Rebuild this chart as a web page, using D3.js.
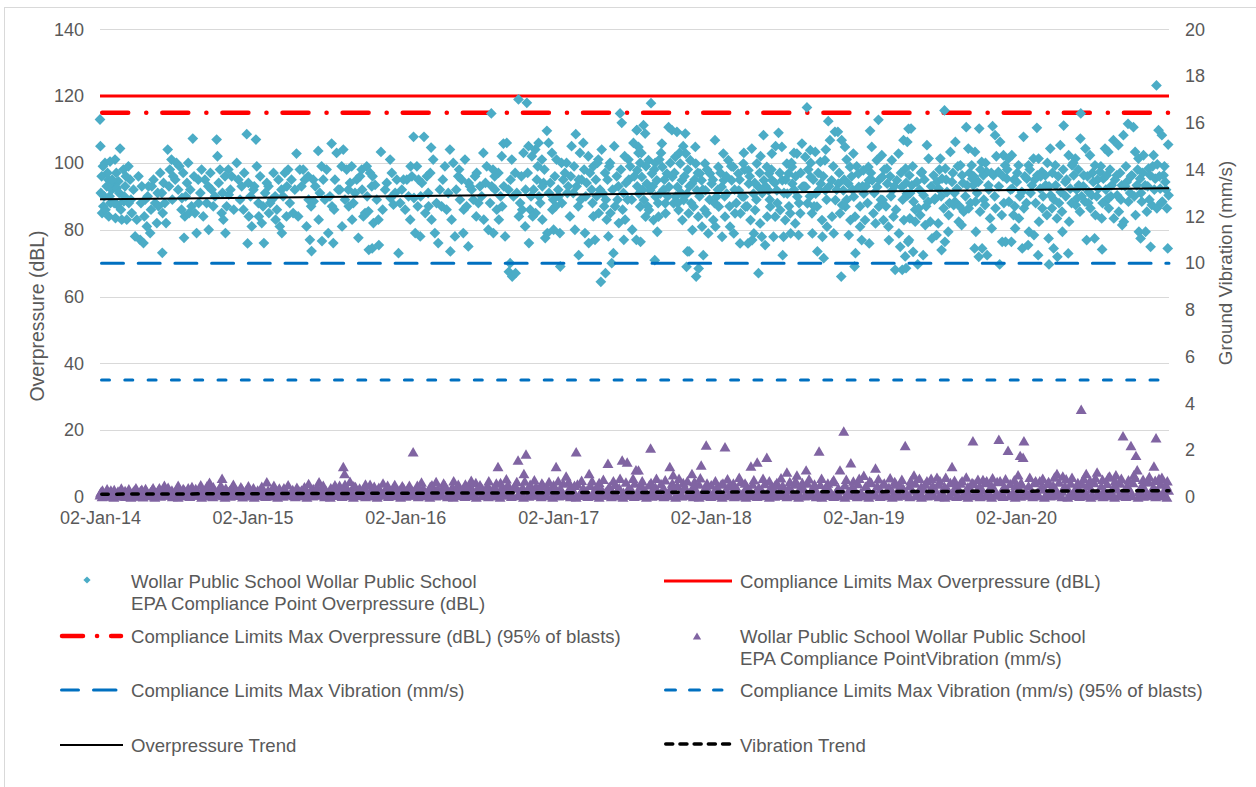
<!DOCTYPE html>
<html>
<head>
<meta charset="utf-8">
<script src="https://cdn.jsdelivr.net/npm/d3@7"></script>
<style>
  html, body { margin: 0; padding: 0; background: #ffffff; }
  svg { display: block; font-family: "Liberation Sans", Arial, sans-serif; }
</style>
</head>
<body>
<svg id="chart" width="1256" height="787"></svg>
<script>
// ---- Axis settings ----
const axisStart = "2014-01-02";
const axisEnd = "2021-01-02";
const yearTicks = ["2014-01-02", "2015-01-02", "2016-01-02", "2017-01-02", "2018-01-02", "2019-01-02", "2020-01-02"];
const overpressureTicks = [0, 20, 40, 60, 80, 100, 120, 140];
const vibrationTicks = [0, 2, 4, 6, 8, 10, 12, 14, 16, 18, 20];

// ---- Compliance limits ----
const overpressureLimit = 120;     // dBL
const overpressureLimit95 = 115;   // dBL, 95% of blasts
const vibrationLimit = 10;         // mm/s
const vibrationLimit95 = 5;        // mm/s, 95% of blasts

// ---- Linear trends (value at axis start, value at axis end) ----
const overpressureTrend = [89.1, 92.4];
const vibrationTrend = [0.12, 0.27];

// ---- Blast results at Wollar Public School: [days after 2 Jan 2014, overpressure dBL] ----
const overpressureBlasts = [
[0,113],[1,105],[12,100],[24,100.4],[36,101],[48,104.3],[4,96],[20,95],[32,94],[44,94.5],[56,98],[68,99],[16,93],[28,92],[40,92.5],[60,93],[72,95],[8,87],[25,88],[41,87.5],[57,88.5],[69,88],[5,85],[21,84],[37,83.5],[52,83],[64,83],[76,85],[10,90],
[84,78],[96,77],[104,76],[112,81],[120,79],[92,96],[100,93],[108,89],[116,93],[124,93],[132,88],[140,87],[148,91],[136,82],[150,85],[149,73.1],
[155,88],[162,104],[171,101],[183,100],[167,98],[175,96],[187,92],[199,97],[211,100],[222,107.3],[195,86],[203,84],[213,85],[219,87],[227,85],[201,77.6],[231,79],[196,89.5],[205,90],
[235,95],[243,98],[251,95],[259,93],[267,92],[279,107],[281,102],[287,98],[299,96],[307,98],[236,88],[247,84],[260,80],[271,87],[291,85],[300,79],[295,83],[308,90.5],
[315,96],[327,100],[331,95],[339,93],[351,108.6],[373,107],[375,99],[355,94],[367,92],[379,88],[343,86],[356,84],[363,81],[353,75.9],[380,84],[387,82],[392,76],
[395,91],[403,93],[411,89],[419,90],[427,95],[434,92],[442,97],[450,98],[458,95],[404,85],[420,83],[430,81],[435,79],[446,84],[462,85],
[470,102.8],[478,98],[486,98],[498,96],[510,95],[522,103.6],[530,99],[542,98],[482,93],[499,89],[511,88.5],[526,91],[538,89],[474,84],[494,81],[506,73.6],[502,77],[523,83],[531,76.6],[546,79],
[554,105.8],[566,103],[582,104],[578,99],[590,98],[602,99],[614,95],[626,98],[638,99],[562,95],[574,92],[594,92],[610,91],[627,92],[558,76],[579,81],[603,83],[618,77.6],[630,84],[643,74],[555,87],[595,87],[634,85],
[646,97],[650,93],[658,93.4],[642,85.5],[654,82],[666,83],[651,74.4],[667,75.4],[672,103.3],[694,101],[682,92],[695,89.5],[702,87.5],[710,95],[714,73],[706,91],
[722,92],[734,95],[746,96],[750,107.8],[758,99],[762,95],[775,107.8],[782,96],[792,104.6],[797,101],[730,86],[742,83],[754,79],[766,78],[778,85],[786,87],[793,83],[801,79],[809,76],[751,89.5],[767,90],
[813,92],[825,99],[837,104],[845,100],[857,96],[865,95],[873,101],[817,87],[829,86],[841,83],[849,78],[838,73.5],[861,89],[869,79],[881,75],[882,94],[877,87],
[889,92],[897,96],[909,93],[917,103],[925,99],[937,93],[945,92],[953,97],[905,88],[918,83],[929,80],[941,79],[954,83],[936,114.8],[961,102],[949,86],
[965,105.8],[973,106],[985,101],[993,97],[1001,119],[1021,118],[977,92],[989,90],[1005,88],[1013,103],[1025,105],[1033,102],[981,70],[986,66],[978,67.4],[994,67],[969,78],[1002,84],[1017,81],[1029,86],[1018,92],[1026,76],
[1041,104],[1049,106],[1057,101],[1069,109.6],[1073,106],[1081,103],[1092,101],[1104,100],[1037,92],[1050,90],[1061,94],[1074,91],[1084,89],[1096,92],[1108,95],[1042,85],[1058,83],[1070,79],[1085,80],[1100,79],[1101,69],[1065,77.5],[1082,86],
[1116,100],[1128,105],[1138,108.6],[1148,103],[1156,106],[1168,102],[1180,99],[1192,101],[1120,93],[1132,91],[1144,87],[1152,95],[1164,94],[1176,92],[1188,90],[1124,84],[1145,72.4],[1160,79],[1169,76],[1184,77],[1193,85],[1136,80],
[1200,104],[1208,97],[1220,100],[1230,105],[1244,114.8],[1248,112],[1264,101],[1276,106],[1284,109.8],[1288,103],[1198,64.4],[1209,67],[1224,70],[1228,73],[1196,92],[1210,89],[1221,85],[1232,87],[1240,93],[1252,91],[1265,95],[1272,89],[1285,93],[1256,83],[1273,80],[1283,77],[1216,78],[1241,82],[1253,77],
[1284,109.8],[1300,111.3],[1304,108.8],[1288,104.8],[1312,100.8],[1328,100],[1344,105.8],[1360,110.7],[1285,97.8],[1296,95.8],[1308,93.8],[1320,96.8],[1332,94.8],[1345,98.8],[1356,96.8],[1289,90.8],[1301,88.9],[1316,91.8],[1329,89.9],[1340,90.8],[1352,87.9],[1292,86.9],[1313,85.9],[1324,82.9],[1336,83.9],[1353,84.9],[1293,76.4],[1305,83.9],[1333,79.4],[1327,70.9],[1318,117.9],[1361,92.8],
[1368,109.8],[1380,109.3],[1400,108.8],[1376,101.8],[1388,99.8],[1401,102.8],[1412,100.8],[1424,104.8],[1435,96.8],[1369,95.8],[1381,92.8],[1392,94.8],[1404,90.8],[1416,93.8],[1428,91.8],[1439,94.8],[1372,87.9],[1384,85.9],[1396,88.9],[1408,84.9],[1420,86.9],[1431,83.9],[1440,80.9],[1393,82.9],[1417,79.9],[1405,73.5],[1409,73.5],[1403,68.9],[1426,66],[1432,68.4],[1377,89.9],[1425,99.8],
[1443,72.4],[1447,99.8],[1459,96.8],[1471,106.8],[1479,98.8],[1491,102.8],[1503,100.8],[1515,98.8],[1448,91.8],[1463,93.8],[1475,89.9],[1487,92.8],[1499,90.8],[1511,94.8],[1451,84.9],[1467,82.9],[1480,86.9],[1495,83.9],[1507,80.9],[1519,84.9],[1455,78.9],[1472,80.9],[1488,77.9],[1516,78.9],[1531,75.9],[1492,94.8],
[1527,96.8],[1539,99.8],[1551,97.8],[1559,104.3],[1571,99.8],[1587,108.3],[1595,98.8],[1528,91.8],[1540,89.9],[1552,93.8],[1563,90.8],[1575,92.8],[1588,94.8],[1599,91.8],[1532,84.9],[1544,86.9],[1556,82.9],[1567,85.9],[1579,81.9],[1596,83.9],[1550,75.9],[1564,78.9],[1575,67],[1583,77.9],[1591,75.4],[1560,76.9],[1600,96.8],
[1607,102.8],[1623,109],[1631,104.8],[1643,99.8],[1655,98.8],[1667,102.8],[1679,105.8],[1608,94.8],[1619,91.8],[1632,94.8],[1644,90.8],[1656,93.8],[1668,89.9],[1680,92.8],[1603,86.9],[1615,83.9],[1627,85.9],[1639,82.9],[1651,84.9],[1663,81.9],[1675,84.9],[1633,72.4],[1635,77.9],[1652,78.9],[1671,78.4],[1611,77.9],[1647,96.8],
[1691,116.6],[1687,101.8],[1699,103.8],[1711,103.3],[1723,100.3],[1734,100.8],[1746,106.8],[1758,109.3],[1688,92.8],[1700,95.8],[1712,90.8],[1724,93.8],[1735,91.8],[1750,94.8],[1692,87.9],[1703,84.9],[1715,86.9],[1727,82.9],[1739,80.9],[1751,83.9],[1716,73.5],[1731,71.5],[1742,112.5],[1728,77.9],[1704,78.9],[1755,78.9],[1759,88.9],
[1765,109.3],[1774,106.8],[1782,104.8],[1794,98.8],[1802,102.8],[1814,96.8],[1826,97.8],[1838,98.8],[1766,93.8],[1778,91.8],[1790,93.8],[1803,89.9],[1815,92.8],[1827,90.8],[1839,94.8],[1770,84.9],[1783,86.9],[1795,82.9],[1806,83.9],[1818,80.9],[1830,82.9],[1773,66],[1807,73],[1822,76.9],[1840,75.9],[1791,78.4],[1805,69],[1775,87.4],
[1842,109.6],[1862,112.9],[1846,104.8],[1858,100.8],[1870,102.3],[1882,98.3],[1894,100.8],[1910,102.8],[1922,106.8],[1934,110.2],[1847,94.8],[1859,92.8],[1871,95.8],[1883,93.8],[1895,91.8],[1906,94.8],[1918,92.8],[1930,90.8],[1850,84.9],[1863,86.9],[1874,82.9],[1886,80.9],[1898,83.9],[1911,78.9],[1923,82.9],[1935,76.9],[1902,68],[1919,68],[1914,74.9],[1887,76.9],[1855,81.9],[1926,72],[1872,88.9],
[1940,110.3],[1931,106.3],[1927,98.3],[1936,96.3],[1942,93.3],[1954,94.3],[1966,97.3],[1978,105.3],[1982,101.3],[1994,96.3],[2002,94.3],[1932,90.3],[1946,88.4],[1958,86.4],[1970,90.3],[1981,88.4],[1998,89.4],[2006,92.3],[1937,83.4],[1950,82.4],[1962,84.4],[1974,81.4],[1986,82.4],[2001,78.4],[1933,76.4],[1945,73.4],[1956,69.6],[1969,72.4],[1928,68.5],[1990,77.4],[2005,81.9],
[2020,115.7],[2010,101.3],[2022,98.3],[2034,103.3],[2046,106.3],[2058,99.3],[2072,110.7],[2077,104.3],[2085,99.3],[2014,95.3],[2026,91.3],[2038,94.3],[2050,92.3],[2062,96.3],[2074,93.3],[2086,95.3],[2018,86.4],[2030,84.4],[2042,87.4],[2054,82.4],[2066,85.4],[2078,86.4],[2021,76.4],[2029,79.4],[2045,88.4],[2061,81.4],[2013,73.9],
[2103,110.3],[2093,103.3],[2109,100.3],[2121,97.3],[2135,111],[2141,108.3],[2153,106.3],[2161,102.3],[2089,93.3],[2101,94.3],[2113,96.3],[2125,93.3],[2137,96.3],[2149,97.3],[2165,99.3],[2094,88.4],[2105,85.4],[2117,87.4],[2129,83.4],[2142,86.4],[2157,84.4],[2102,71.9],[2092,74.4],[2110,74.4],[2122,72.4],[2152,69.6],[2158,76.4],[2166,76.4],[2133,80.4],[2095,79.4],
[2173,101.3],[2181,102.3],[2197,99.3],[2209,107.8],[2221,99.3],[2233,101.3],[2241,110.5],[2245,101.3],[2169,95.3],[2182,92.3],[2193,94.3],[2205,91.3],[2217,95.3],[2229,93.3],[2242,96.3],[2174,88.4],[2185,84.4],[2198,83.4],[2210,86.4],[2222,79.4],[2234,78.4],[2246,82.4],[2206,74.4],[2220,75.4],[2244,72.4],[2189,80.4],[2180,76.4],
[2253,97.3],[2261,96.3],[2273,104.3],[2285,99.3],[2297,105.3],[2305,111.2],[2317,102.3],[2325,99.3],[2249,92.3],[2262,93.3],[2274,90.3],[2286,93.3],[2298,91.3],[2309,94.3],[2321,92.3],[2254,86.4],[2265,84.4],[2277,86.4],[2289,83.4],[2301,85.4],[2318,82.4],[2270,69.6],[2281,74.4],[2290,71.9],[2316,72.9],[2269,77.4],[2302,79.4],
[2333,101.3],[2345,107.3],[2346,114.8],[2357,104.3],[2368,102.3],[2380,99.3],[2392,97.3],[2404,104.3],[2329,96.3],[2341,93.3],[2353,96.3],[2365,91.3],[2376,94.3],[2388,92.3],[2400,95.3],[2334,87.4],[2344,85.4],[2356,88.4],[2369,86.4],[2381,84.4],[2396,83.4],[2360,76.9],[2379,77.4],[2397,74.1],[2337,89.4],[2372,90.3],[2405,88.4],
[2412,103.3],[2424,106.8],[2436,105.3],[2448,108.3],[2459,111.7],[2472,110.7],[2476,103.3],[2484,101.3],[2408,96.3],[2420,93.3],[2432,96.3],[2444,93.3],[2456,94.3],[2468,96.3],[2480,93.3],[2413,86.4],[2425,83.4],[2437,85.4],[2449,82.4],[2460,88.4],[2477,84.4],[2485,79.4],[2445,81.4],[2433,90.3],[2411,89.4],
[2496,102.3],[2508,98.3],[2520,102.3],[2532,109.8],[2540,108.3],[2555,105.5],[2488,95.3],[2500,93.3],[2512,96.3],[2524,95.3],[2536,92.3],[2548,94.3],[2556,90.3],[2492,88.4],[2504,85.4],[2516,87.4],[2528,86.4],[2541,88.4],[2552,86.4],[2489,77.4],[2501,79.4],[2513,74.9],[2554,74.4],[2529,99.6],[2544,96.3],[2527,123.2],
[2,91],[7,99],[13,86],[18,97],[23,90],[29,95],[34,88],[39,97],[46,91],[50,86],[58,90],[62,96],[74,89],[80,92],[88,83],[98,88],[106,84],[114,90],[122,86],[128,95],[138,91],[144,97],[152,94],[158,82],[165,93],[173,89],[180,95],[190,99],[208,94],[216,92],[225,96],[240,91],[255,88],[264,97],[275,90],[284,94],[293,91],[303,87],[312,92],[320,86],[335,89],[345,97],[360,90],
[369,93],[383,96],[390,87],[399,94],[407,88],[415,97],[423,86],[438,90],[447,93],[454,88],[466,92],[490,95],[505,87],[515,93],[534,95],[550,90],[560,86],[570,92],[586,89],[598,94],[606,88],[622,96],[639,90],[652,96],[662,89],[676,86],[686,94],[698,97],[718,88],[726,95],
[738,90],[743,99],[760,87],[770,94],[785,91],[790,97],[805,88],[820,95],[833,91],[852,92],[859,98],[870,86],[885,93],[893,89],[901,97],[913,90],[922,94],[933,88],[944,96],[958,90],[966,93],[982,95],[997,91],[1008,96],[1010,86],[1023,97],[1031,90],[1045,95],[1053,88],[1063,98],[1077,94],[1088,96],[1090,87],[1058,93],[1035,84],[1047,99],[1097,90],[962,87],[940,98],[900,84],
[1105,88],[1112,97],[1118,91],[1126,96],[1134,99],[1140,93],[1150,89],[1158,98],[1162,90],[1172,97],[1178,88],[1186,95],[1190,100],[1202,91],[1206,87],[1214,95],[1218,99],[1226,92],[1236,96],[1238,89],[1246,98],[1250,86],[1258,94],[1262,89],[1268,99],[1278,96],[1292,100],[1298,92],[1306,99],[1310,87],[1322,93],[1326,98],[1335,88],[1338,101],[1348,92],[1350,95],[1358,90],[1364,100],[1374,97],[1382,88],[1386,103],[1390,91],[1398,96],[1406,98],[1410,93],[1414,88],[1422,95],[1430,97],[1434,90],[1442,92],[1446,86],[1452,98],[1458,89],[1395,105],[1342,103],[1295,103],[1255,102],[1212,83],[1180,84],[1145,95],
[1466,95],[1470,88],[1478,92],[1484,97],[1494,90],[1498,96],[1506,87],[1510,99],[1518,92],[1522,88],[1530,95],[1536,90],[1542,98],[1548,87],[1554,96],[1566,94],[1570,89],[1578,97],[1584,91],[1592,93],[1602,89],[1606,98],[1614,94],[1620,88],[1626,97],[1636,91],[1640,95],[1648,87],[1654,100],[1660,92],[1664,96],[1672,88],[1676,97],[1684,93],[1694,98],[1698,90],[1706,95],[1708,87],[1718,97],[1720,92],[1730,96],[1738,89],[1744,93],[1754,99],[1762,92],[1768,97],[1780,95],[1786,89],[1798,96],[1800,92],[1810,99],[1818,87],[1824,93],[1540,103],[1580,102],[1616,105],[1660,103],[1700,100],[1736,104],[1786,101],
[1832,93],[1836,88],[1844,97],[1852,91],[1864,95],[1868,89],[1876,98],[1880,87],[1890,96],[1892,90],[1900,93],[1904,86],[1916,97],[1920,89],[1928,94],[1938,91],[1944,99],[1950,86],[1960,92],[1964,97],[1972,95],[1976,87],[1988,93],[1996,89],[2008,98],[2012,90],[2024,95],[2032,88],[2040,97],[2044,91],[2052,99],[2056,87],[2064,94],[2070,90],[2080,97],[2082,88],[2090,96],[2098,91],[2106,98],[2114,89],[2118,100],[2126,92],[2132,97],[2140,90],[2144,102],[2150,93],[2160,96],[2162,88],[2170,98],[2178,92],[2186,95],[2188,87],
[2194,97],[2200,90],[2212,96],[2216,88],[2224,98],[2226,91],[2236,95],[2238,88],[2250,96],[2256,90],[2266,100],[2270,93],[2278,97],[2282,89],[2292,96],[2294,88],[2304,98],[2310,90],[2312,95],[2324,88],[2328,100],[2336,92],[2340,98],[2348,90],[2352,93],[2362,96],[2364,88],[2374,97],[2384,90],[2386,95],[2394,99],[2398,88],[2406,92],[2416,98],[2418,90],[2428,95],[2440,97],[2442,89],[2452,93],[2454,99],[2464,91],[2466,96],[2474,90],[2482,98],[2490,91],[2494,97],[2506,93],[2510,89],[2518,99],[2522,92],[2534,96],[2538,88],[2546,99],[2550,92]
];

// ---- Blast results at Wollar Public School: [days after 2 Jan 2014, ground vibration mm/s] ----
const vibrationBlasts = [
[0,.1],[3,.25],[9,.05],[14,.2],[20,.12],[26,.3],[31,.08],[37,.18],[43,.26],[48,.04],[54,.15],[60,.28],[66,.1],[71,.22],[77,.06],[83,.3],[88,.14],[94,.2],[100,.33],[106,.09],[112,.24],[118,.16],[124,.3],[130,.05],[136,.2],[142,.4],[148,.12],[154,.5],[160,.25],[166,.08],[172,.3],[178,.18],[184,.36],[190,.1],[196,.22],[202,.3],[208,.06],[214,.28],[220,.45],[226,.15],[232,.24],[238,.1],[244,.33],[250,.2],[256,.48],[262,.63],[268,.12],[274,.3],[280,.22],[286,.38],[292,.8],[298,.18],[304,.1],[310,.29],[316,.42],[322,.16],[328,.24],[334,.08],[340,.34],[346,.2],[352,.12],[358,.3],[364,.26],
[370,.14],[377,.3],[384,.08],[391,.22],[399,.65],[405,.18],[412,.35],[419,.1],[426,.28],[433,.16],[440,.4],[447,.2],[454,.12],[461,.32],[468,.24],[475,.06],[482,.3],[489,.44],[496,.15],[503,.26],[510,.36],[517,.1],[524,.65],[531,.22],[538,.3],[545,.14],[552,.4],[559,.2],[566,.28],[573,.5],[580,.12],[582,1.3],[585,1.0],[590,.36],[598,.67],[604,.2],[611,.45],[618,.28],[625,.14],[632,.38],[639,.24],[646,.55],[653,.18],[660,.3],[667,.42],[674,.12],[681,.26],[688,.5],[695,.2],[702,.34],[709,.16],[716,.3],[723,.48],[730,.22],
[737,.36],[744,.14],[749,1.94],[752,.28],[759,.5],[766,.2],[773,.4],[780,.1],[787,.3],[794,.52],[801,.24],[808,.36],[815,.18],[822,.6],[829,.3],[836,.14],[843,.44],[850,.26],[857,.55],[864,.2],[871,.34],[878,.12],[885,.48],[892,.3],[899,.62],[906,.22],[913,.4],[920,.16],[927,.5],[934,.28],[941,.36],[948,.6],[952,1.3],[955,.2],[962,.44],[969,.3],[976,.55],[983,.14],[990,.38],[997,.66],[1000,1.58],[1004,.24],[1011,.42],[1014,1.0],[1019,1.84],[1022,.3],[1029,.55],[1036,.2],[1043,.46],[1050,.32],[1057,.6],[1064,.18],[1071,.4],[1078,.28],[1085,.52],[1091,1.3],[1094,.22],
[1101,.36],[1108,.6],[1115,.9],[1118,.2],[1125,.44],[1132,.3],[1139,1.94],[1142,.56],[1149,.16],[1156,.4],[1163,.28],[1170,1.0],[1173,.5],[1180,.22],[1187,.38],[1194,.62],[1201,.3],[1208,.18],[1215,1.44],[1218,.45],[1225,.26],[1232,.55],[1239,.34],[1244,.8],[1249,1.58],[1252,.2],[1261,1.5],[1265,.42],[1272,.3],[1279,.6],[1282,1.17],[1286,.24],[1288,1.16],[1293,.48],[1300,.34],[1307,.16],[1314,.52],[1317,2.1],[1321,.3],[1328,.44],[1335,.2],[1342,.58],[1349,.36],[1356,.14],[1363,1.3],[1366,.42],[1371,.95],[1374,.28],[1381,.5],[1388,.22],[1395,.62],[1402,.34],[1409,.18],[1416,1.0],[1419,.46],[1426,.3],[1433,.56],[1438,1.37],[1441,.2],[1448,.4],[1450,2.22],[1455,.3],
[1462,.52],[1469,.26],[1476,.44],[1483,.18],[1490,.6],[1495,2.15],[1498,.34],[1505,.5],[1512,.22],[1519,.4],[1526,.3],[1533,.66],[1540,.2],[1547,.46],[1554,.32],[1557,1.33],[1561,.56],[1568,.24],[1572,1.5],[1576,.42],[1583,.3],[1590,.58],[1595,1.7],[1598,.2],[1605,.44],[1612,.34],[1619,.62],[1626,.26],[1633,.5],[1640,.18],[1643,1.07],[1647,.4],[1654,.3],[1661,.56],[1667,.94],[1670,.22],[1677,.46],[1684,.34],[1689,1.16],[1692,.6],[1699,.2],[1706,.42],[1713,.3],[1720,1.97],[1723,.54],[1730,.24],[1737,.44],[1741,.6],[1745,.32],[1752,.66],[1759,.18],[1766,.4],[1770,1.16],[1774,.3],[1779,2.82],[1782,.52],[1789,.24],[1796,1.46],[1799,.44],[1806,.3],[1813,.58],[1820,.2],[1827,.93],
[1831,.46],[1838,.3],[1845,.62],[1852,.22],[1855,1.24],[1859,.48],[1866,.34],[1873,.56],[1880,.2],[1887,.42],[1894,.3],[1901,.66],[1908,.24],[1915,.5],[1922,.36],[1926,2.2],[1929,.18],[1936,.48],[1943,.3],[1947,.94],[1950,.6],[1957,.22],[1964,.44],[1971,.34],[1978,.7],[1985,.26],[1992,.5],[1999,.3],[2002,.85],[2006,.56],[2013,.2],[2020,.46],[2027,.36],[2034,.62],[2038,1.3],[2041,.24],[2048,.5],[2055,.32],[2062,.7],[2069,.2],[2076,.44],[2083,.34],[2088,2.41],[2090,.58],[2097,.26],[2104,.48],[2111,.3],[2112,.75],[2118,.62],[2125,.22],[2132,.5],[2139,.36],[2146,.66],[2150,2.47],[2153,.7],[2156,.24],[2163,.46],[2170,.3],[2172,2.0],[2177,.58],[2184,.2],[2190,.5],
[2196,.95],[2199,.34],[2201,1.78],[2205,.56],[2208,1.7],[2210,2.41],[2214,.24],[2221,.48],[2228,.3],[2235,.62],[2242,.2],[2248,.7],[2252,.44],[2259,.34],[2266,.58],[2273,.22],[2280,.5],[2287,.32],[2289,1.0],[2294,.64],[2301,.26],[2303,.9],[2308,.48],[2315,.36],[2322,.6],[2329,.2],[2336,.46],[2343,.3],[2347,3.75],[2350,.56],[2357,.24],[2359,1.0],[2364,.5],[2371,.34],[2378,.62],[2385,1.07],[2388,.22],[2395,.48],[2402,.3],[2409,.58],[2415,.9],[2418,.2],[2425,.46],[2430,.95],[2433,.34],[2440,.6],[2447,2.62],[2450,.26],[2457,.5],[2464,.3],[2466,2.2],[2471,.62],[2473,.95],[2478,1.78],[2481,1.17],[2485,.24],[2492,.5],[2499,.36],[2506,.66],[2509,.65],[2513,.2],[2520,.44],[2521,1.33],[2526,2.53],[2529,.3],[2533,.8],[2537,.56],[2544,.22],[2551,.48],[2556,.3],
[1,.18],[6,.3],[12,.1],[17,.35],[23,.2],[29,.04],[34,.32],[40,.14],[46,.22],[51,.38],[57,.08],[63,.2],[69,.35],[74,.12],[80,.26],[86,.4],[91,.04],[97,.28],[103,.16],[109,.36],[115,.06],[121,.22],[127,.4],[133,.14],[139,.28],[145,.08],[151,.34],[157,.18],[163,.42],[169,.2],[175,.06],[181,.24],[187,.5],[193,.16],[199,.36],[205,.1],[211,.4],[217,.22],[223,.08],[229,.36],[235,.18],[241,.52],[247,.06],[253,.26],[259,.36],[265,.2],[271,.44],[277,.1],[283,.26],[289,.5],[295,.06],[301,.38],[307,.22],[313,.12],[319,.55],[325,.3],[331,.14],[337,.44],[343,.06],[349,.28],[355,.48],[361,.16],
[367,.4],[373,.06],[380,.24],[387,.46],[394,.12],[402,.3],[409,.05],[416,.5],[422,.2],[429,.38],[436,.08],[443,.26],[450,.52],[457,.18],[464,.06],[471,.42],[478,.26],[485,.12],[492,.34],[499,.58],[506,.08],[513,.22],[520,.44],[527,.12],[534,.5],[541,.26],[548,.06],[555,.32],[562,.52],[569,.14],[576,.36],[586,.55],[594,.1],[601,.28],[607,.48],[614,.06],[621,.38],[628,.2],[635,.56],[642,.1],[649,.34],[656,.46],[663,.06],[670,.28],[677,.6],[684,.14],[691,.36],[698,.08],[705,.54],[712,.24],[719,.06],[726,.4],
[733,.12],[740,.5],[747,.26],[755,.08],[762,.42],[769,.64],[776,.22],[783,.06],[790,.46],[797,.2],[804,.66],[811,.1],[818,.34],[825,.5],[832,.08],[839,.28],[846,.7],[853,.14],[860,.4],[867,.06],[874,.56],[881,.24],[888,.72],[895,.12],[902,.34],[909,.52],[916,.06],[923,.3],[930,.7],[937,.16],[944,.44],[951,.08],[958,.62],[965,.2],[972,.78],[979,.3],[986,.08],[993,.5],[1007,.1],[1016,.68],[1025,.12],[1032,.36],[1039,.74],[1046,.08],[1053,.3],[1060,.5],[1067,.1],[1074,.66],[1081,.06],[1088,.42],[1096,.7],
[1098,.1],[1104,.3],[1111,.08],[1121,.66],[1128,.12],[1135,.5],[1146,.08],[1152,.72],[1159,.2],[1166,.06],[1177,.7],[1183,.1],[1190,.46],[1197,.08],[1204,.76],[1211,.26],[1221,.08],[1228,.7],[1235,.12],[1242,.4],[1256,.08],[1258,.64],[1268,.12],[1275,.8],[1290,.08],[1297,.7],[1304,.3],[1310,.06],[1318,.62],[1325,.12],[1331,.8],[1338,.06],[1345,.3],[1352,.74],[1359,.08],[1369,.6],[1378,.1],[1385,.8],[1392,.06],[1398,.44],[1405,.7],[1412,.08],[1422,.66],[1429,.14],[1436,.82],[1444,.06],[1452,.6],[1458,.12],
[1465,.08],[1472,.7],[1479,.12],[1486,.56],[1493,.06],[1501,.78],[1508,.1],[1515,.6],[1522,.06],[1529,.84],[1536,.14],[1543,.6],[1550,.06],[1564,.74],[1579,.08],[1586,.8],[1593,.12],[1601,.7],[1608,.06],[1615,.52],[1622,.1],[1629,.82],[1636,.08],[1650,.66],[1657,.1],[1664,.7],[1674,.06],[1680,.62],[1687,.1],[1696,.78],[1702,.08],[1709,.56],[1716,.12],[1726,.8],[1733,.08],[1748,.1],[1755,.74],[1762,.06],[1785,.76],[1792,.1],[1802,.68],[1809,.08],[1816,.8],[1823,.12],
[1834,.08],[1841,.7],[1848,.12],[1862,.78],[1869,.06],[1876,.6],[1883,.12],[1890,.82],[1897,.08],[1904,.56],[1911,.12],[1918,.76],[1932,.08],[1939,.7],[1954,.1],[1960,.8],[1967,.06],[1974,.56],[1981,.12],[1988,.8],[1995,.08],[2009,.7],[2016,.1],[2023,.84],[2030,.06],[2044,.72],[2051,.1],[2058,.6],[2065,.08],[2072,.86],[2079,.12],[2086,.62],[2093,.06],[2100,.76],[2107,.1],[2121,.7],[2128,.08],[2135,.82],[2142,.12],[2159,.08],[2166,.78],[2180,.1],[2187,.74],
[2194,.1],[2203,.62],[2217,.08],[2224,.84],[2231,.12],[2238,.7],[2245,.06],[2255,.8],[2262,.1],[2269,.66],[2276,.08],[2283,.86],[2297,.1],[2311,.78],[2318,.08],[2325,.84],[2332,.12],[2339,.62],[2346,.06],[2353,.8],[2361,.1],[2368,.72],[2374,.06],[2381,.82],[2391,.1],[2398,.76],[2405,.08],[2412,.86],[2421,.1],[2428,.7],[2436,.06],[2443,.8],[2454,.1],[2460,.74],[2468,.08],[2476,.84],[2488,.1],[2495,.76],[2502,.06],[2510,.88],[2517,.1],[2524,.72],[2531,.06],[2540,.84],[2547,.1],[2553,.7],
[5,.02],[18,.06],[33,0],[46,.08],[61,.03],[74,0],[88,.05],[103,.01],[116,.07],[131,0],[145,.04],[158,.09],[173,.02],[187,0],[200,.06],[215,.03],[228,.08],[243,0],[257,.05],[270,.02],[285,.09],[299,0],[312,.04],[327,.07],[341,.01],[354,.05],[369,0],[383,.08],[396,.03],[411,.06],[425,0],[438,.04],[453,.09],[467,.02],[480,.06],[495,0],[509,.05],[522,.08],[537,.02],[551,0],[564,.07],[579,.03],[593,.06],[606,0],[621,.09],[635,.02],[648,.05],[663,0],[677,.08],[690,.03],[705,.06],[719,0],[732,.04],[747,.09],[761,.02],[774,.06],[789,0],[803,.05],[816,.08],[831,.02],[845,0],[858,.07],[873,.03],[887,.06],[900,0],[915,.09],[929,.02],[942,.05],[957,0],[971,.08],[984,.03],[999,.06],[1013,0],[1026,.04],[1041,.09],[1055,.02],[1068,.06],[1083,0],[1097,.05],[1110,.08],[1125,.02],[1139,0],[1152,.07],[1167,.03],[1181,.06],[1194,0],[1209,.09],[1223,.02],[1236,.05],[1251,0],[1265,.08],[1278,.03],[1293,.06],[1307,0],[1320,.04],[1335,.09],[1349,.02],[1362,.06],[1377,0],[1391,.05],[1404,.08],[1419,.02],[1433,0],[1446,.07],[1461,.03],[1475,.06],[1488,0],[1503,.09],[1517,.02],[1530,.05],[1545,0],[1559,.08],[1572,.03],[1587,.06],[1601,0],[1614,.04],[1629,.09],[1643,.02],[1656,.06],[1671,0],[1685,.05],[1698,.08],[1713,.02],[1727,0],[1740,.07],[1755,.03],[1769,.06],[1782,0],[1797,.09],[1811,.02],[1824,.05],[1839,0],[1853,.08],[1866,.03],[1881,.06],[1895,0],[1908,.04],[1923,.09],[1937,.02],[1950,.06],[1965,0],[1979,.05],[1992,.08],[2007,.02],[2021,0],[2034,.07],[2049,.03],[2063,.06],[2076,0],[2091,.09],[2105,.02],[2118,.05],[2133,0],[2147,.08],[2160,.03],[2175,.06],[2189,0],[2202,.04],[2217,.09],[2231,.02],[2244,.06],[2259,0],[2273,.05],[2286,.08],[2301,.02],[2315,0],[2328,.07],[2343,.03],[2357,.06],[2370,0],[2385,.09],[2399,.02],[2412,.05],[2427,0],[2441,.08],[2454,.03],[2469,.06],[2483,0],[2496,.04],[2511,.09],[2525,.02],[2538,.06],[2552,0]
];

// ---- Colours ----
const colOverpressure = "#4bacc6";
const colVibration = "#8064a2";
const colRed = "#ff0000";
const colBlue = "#0070c0";
const colText = "#595959";
const colGrid = "#d9d9d9";

// ---- Layout ----
const plot = { left: 100, right: 1169, top: 29.3, bottom: 497 };

const svg = d3.select("#chart");
const parseDate = d3.utcParse("%Y-%m-%d");
const t0 = parseDate(axisStart);
const t1 = parseDate(axisEnd);
const dayToDate = d => d3.utcDay.offset(t0, d);

const x = d3.scaleUtc().domain([t0, t1]).range([plot.left, plot.right]);
const yL = d3.scaleLinear().domain([0, 140]).range([plot.bottom, plot.top]);
const yR = d3.scaleLinear().domain([0, 20]).range([plot.bottom, plot.top]);

// Chart border
svg.append("rect").attr("x", 4.5).attr("y", 7.5).attr("width", 1260).attr("height", 790)
  .attr("fill", "#ffffff").attr("stroke", colGrid).attr("stroke-width", 1);

// Horizontal gridlines
svg.append("g").selectAll("line").data(overpressureTicks).join("line")
  .attr("x1", plot.left).attr("x2", plot.right)
  .attr("y1", d => Math.round(yL(d)) + 0.5).attr("y2", d => Math.round(yL(d)) + 0.5)
  .attr("stroke", colGrid).attr("stroke-width", 1);

// Axes
const tickFont = "18px";
const gLeft = svg.append("g").attr("transform", `translate(${plot.left},0)`)
  .call(d3.axisLeft(yL).tickValues(overpressureTicks).tickSize(0).tickPadding(16));
const gRight = svg.append("g").attr("transform", `translate(${plot.right},0)`)
  .call(d3.axisRight(yR).tickValues(vibrationTicks).tickSize(0).tickPadding(16));
const gBottom = svg.append("g").attr("transform", `translate(0,${plot.bottom})`)
  .call(d3.axisBottom(x).tickValues(yearTicks.map(parseDate))
    .tickFormat(d3.utcFormat("%d-%b-%y")).tickSize(0).tickPadding(14));
[gLeft, gRight, gBottom].forEach(g => {
  g.select(".domain").remove();
  g.selectAll("text").attr("fill", colText).style("font-size", tickFont)
    .style("font-family", '"Liberation Sans", Arial, sans-serif');
});

// Axis titles
svg.append("text").attr("transform", "translate(44,316) rotate(-90)")
  .attr("text-anchor", "middle").attr("fill", colText).style("font-size", "19.5px")
  .text("Overpressure (dBL)");
svg.append("text").attr("transform", "translate(1232,263) rotate(-90)")
  .attr("text-anchor", "middle").attr("fill", colText).style("font-size", "18.7px")
  .text("Ground Vibration (mm/s)");

// Overpressure limit lines
const hLine = (g, yScale, v) => g.append("line")
  .attr("x1", x(t0)).attr("x2", x(t1)).attr("y1", yScale(v)).attr("y2", yScale(v));

hLine(svg, yL, overpressureLimit).attr("stroke", colRed).attr("stroke-width", 3);
hLine(svg, yL, overpressureLimit95).attr("stroke", colRed).attr("stroke-width", 4.5)
  .attr("stroke-linecap", "round").attr("stroke-dasharray", "26,18,0.1,16").attr("stroke-dashoffset", -2.2);

// Markers
const diamond = {
  draw(ctx, size) {
    const r = Math.sqrt(size / 2);
    ctx.moveTo(0, -r); ctx.lineTo(r, 0); ctx.lineTo(0, r); ctx.lineTo(-r, 0); ctx.closePath();
  }
};
const triangle = {
  draw(ctx, size) {
    const s = Math.sqrt(size * 4 / Math.sqrt(3));
    const h = s * Math.sqrt(3) / 2;
    ctx.moveTo(0, -h / 2); ctx.lineTo(s / 2, h / 2); ctx.lineTo(-s / 2, h / 2); ctx.closePath();
  }
};

// Overpressure points
svg.append("g").selectAll("path").data(overpressureBlasts).join("path")
  .attr("transform", d => `translate(${x(dayToDate(d[0]))},${yL(d[1])})`)
  .attr("d", d3.symbol(diamond, 58)())
  .attr("fill", colOverpressure);

// Overpressure trend
svg.append("line")
  .attr("x1", x(t0)).attr("x2", x(t1))
  .attr("y1", yL(overpressureTrend[0])).attr("y2", yL(overpressureTrend[1]))
  .attr("stroke", "#000000").attr("stroke-width", 2);

// Vibration limit lines
hLine(svg, yR, vibrationLimit).attr("stroke", colBlue).attr("stroke-width", 3)
  .attr("stroke-linecap", "round").attr("stroke-dasharray", "22,14.7").attr("stroke-dashoffset", -1.5);
hLine(svg, yR, vibrationLimit95).attr("stroke", colBlue).attr("stroke-width", 3)
  .attr("stroke-linecap", "round").attr("stroke-dasharray", "8,15.3").attr("stroke-dashoffset", -1.5);

// Vibration points
svg.append("g").selectAll("path").data(vibrationBlasts).join("path")
  .attr("transform", d => `translate(${x(dayToDate(d[0]))},${yR(d[1])})`)
  .attr("d", d3.symbol(triangle, 52)())
  .attr("fill", colVibration);

// Vibration trend
svg.append("line")
  .attr("x1", x(t0)).attr("x2", x(t1))
  .attr("y1", yR(vibrationTrend[0])).attr("y2", yR(vibrationTrend[1]))
  .attr("stroke", "#000000").attr("stroke-width", 3.5)
  .attr("stroke-linecap", "round").attr("stroke-dasharray", "6.5,8.5").attr("stroke-dashoffset", -1.75);

// ---- Legend ----
const legend = svg.append("g").style("font-size", "18.6px").attr("fill", colText);
const legendText = (xPos, yPos, lines) => {
  const t = legend.append("text").attr("x", xPos).attr("y", yPos);
  lines.forEach((l, i) => t.append("tspan").attr("x", xPos).attr("dy", i === 0 ? 0 : 22).text(l));
};
const legendLine = (x1, x2, yPos) => legend.append("line")
  .attr("x1", x1).attr("x2", x2).attr("y1", yPos).attr("y2", yPos);

// Left column
legend.append("path").attr("transform", "translate(87,580)")
  .attr("d", d3.symbol(diamond, 26)()).attr("fill", colOverpressure);
legendText(131, 587.5, ["Wollar Public School Wollar Public School", "EPA Compliance Point Overpressure (dBL)"]);

legendLine(62, 121, 636).attr("stroke", colRed).attr("stroke-width", 4.5)
  .attr("stroke-linecap", "round").attr("stroke-dasharray", "21,14,0.1,14,30");
legendText(131, 642.5, ["Compliance Limits Max Overpressure (dBL) (95% of blasts)"]);

legendLine(61.5, 116, 690).attr("stroke", colBlue).attr("stroke-width", 3)
  .attr("stroke-linecap", "round").attr("stroke-dasharray", "17,15,30");
legendText(131, 696.5, ["Compliance Limits Max Vibration (mm/s)"]);

legendLine(60, 123, 745).attr("stroke", "#000000").attr("stroke-width", 2);
legendText(131, 751.5, ["Overpressure Trend"]);

// Right column
legendLine(664, 732, 581).attr("stroke", colRed).attr("stroke-width", 3);
legendText(740, 587.5, ["Compliance Limits Max Overpressure (dBL)"]);

legend.append("path").attr("transform", "translate(697,636)")
  .attr("d", d3.symbol(triangle, 30)()).attr("fill", colVibration);
legendText(740, 642.5, ["Wollar Public School Wollar Public School", "EPA Compliance PointVibration (mm/s)"]);

legendLine(665.5, 722, 690).attr("stroke", colBlue).attr("stroke-width", 3)
  .attr("stroke-linecap", "round").attr("stroke-dasharray", "10,14");
legendText(740, 696.5, ["Compliance Limits Max Vibration (mm/s) (95% of blasts)"]);

legendLine(665.75, 730, 744).attr("stroke", "#000000").attr("stroke-width", 3.5)
  .attr("stroke-linecap", "round").attr("stroke-dasharray", "7,7.2");
legendText(740, 751.5, ["Vibration Trend"]);
</script>
</body>
</html>
